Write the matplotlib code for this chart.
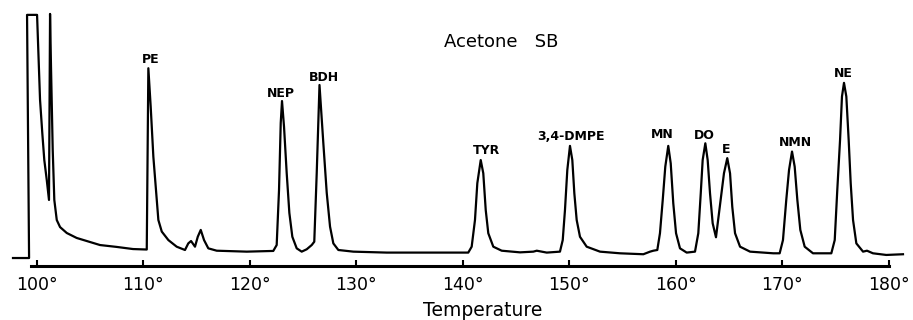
import matplotlib
matplotlib.use("Agg")
import matplotlib.pyplot as plt

# Chromatogram trace: temperature (deg C) and detector signal (arb. units)
temperature = [
    97.79, 99.30, 99.11, 100.05, 100.17, 100.33, 100.54, 100.73, 100.96, 101.17,
    101.27, 101.36, 101.52, 101.67, 101.90, 102.21, 102.84, 103.77, 104.71, 105.96,
    107.53, 109.06, 110.35,
    110.50, 110.72, 110.97, 111.22, 111.44, 111.76, 112.38, 113.16, 113.94,
    114.25, 114.51, 114.88, 115.14, 115.42, 115.73, 116.13, 116.92, 119.74, 122.23,
    122.55, 122.77, 122.93, 123.05, 123.24, 123.49, 123.74, 124.02, 124.43, 124.90,
    125.37, 125.84, 126.08,
    126.31, 126.57, 126.93, 127.25, 127.56, 127.87, 128.34, 129.75, 132.88, 140.54,
    140.86, 141.17, 141.39, 141.71, 141.95, 142.18, 142.42, 142.89, 143.68, 145.40,
    146.65, 146.97, 147.91, 149.15,
    149.41, 149.62, 149.84, 150.09, 150.31, 150.50, 150.72, 151.03, 151.66, 152.91,
    154.79, 156.98, 157.61, 157.92, 158.29,
    158.54, 158.80, 159.04, 159.32, 159.55, 159.79, 160.05, 160.42, 161.05, 161.83,
    162.14, 162.37, 162.55, 162.80, 163.02, 163.24, 163.49, 163.80,
    164.24, 164.55, 164.86, 165.12, 165.33, 165.59, 166.06, 167.00, 169.18,
    169.78, 170.09, 170.40, 170.66, 170.94, 171.19, 171.44, 171.72, 172.13, 172.91,
    174.63,
    174.95, 175.19, 175.45, 175.63, 175.82, 176.04, 176.26, 176.45, 176.67, 176.98,
    177.61, 177.98, 178.54, 179.79, 181.36,
]
signal = [
    -3.4, -3.4, 99.6, 99.6, 84.7, 63.6, 49.6, 38.1, 29.7, 21.2,
    100.0, 77.5, 42.4, 21.2, 12.7, 9.7, 7.2, 5.1, 3.8, 2.1,
    1.3, 0.4, 0.2,
    77.0, 60.7, 39.5, 25.4, 12.7, 7.8, 4.2, 1.4, 0.0,
    2.8, 3.8, 1.4, 5.6, 8.5, 4.2, 0.7, -0.3, -0.7, -0.4,
    2.1, 25.4, 53.8, 63.1, 52.2, 32.6, 15.7, 5.6, 0.7, -0.7,
    0.3, 2.1, 3.5,
    32.6, 69.9, 45.3, 24.2, 9.9, 2.8, 0.0, -0.7, -1.1, -1.1,
    1.4, 12.7, 28.3, 38.1, 32.5, 16.9, 7.1, 1.4, -0.3, -1.0,
    -0.7, -0.3, -1.1, -0.7,
    4.2, 16.9, 33.9, 44.1, 38.1, 24.0, 12.7, 5.6, 1.4, -0.7,
    -1.4, -1.8, -0.7, -0.3, 0.0,
    7.1, 21.2, 35.3, 44.1, 36.7, 19.8, 7.1, 0.7, -1.1, -0.7,
    7.1, 24.0, 38.1, 45.2, 38.1, 24.0, 11.3, 5.4,
    21.2, 32.5, 38.9, 32.5, 18.3, 7.1, 1.4, -0.7, -1.4,
    -1.4, 4.2, 21.2, 33.9, 41.7, 35.3, 21.2, 8.5, 1.4, -1.4,
    -1.4,
    4.2, 25.4, 46.6, 65.0, 70.8, 65.0, 46.6, 28.3, 12.7, 2.8,
    -0.7, -0.3, -1.4, -2.1, -1.8,
]

# Peak labels
peak_names = ["PE", "NEP", "BDH", "TYR", "3,4-DMPE", "MN", "DO", "E", "NMN", "NE"]
peak_label_temp = [110.75, 122.91, 127.0, 142.21, 150.14, 158.73, 162.72, 164.79, 171.27, 175.73]
peak_label_signal = [79.2, 64.8, 71.6, 40.7, 46.6, 47.5, 47.0, 41.1, 44.1, 73.3]

tick_values = [100, 110, 120, 130, 140, 150, 160, 170, 180]
tick_labels = ["100°", "110°", "120°", "130°", "140°", "150°", "160°", "170°", "180°"]

fig = plt.figure(figsize=(9.13, 3.20), dpi=100)
ax = fig.add_axes([0, 1 - 266 / 320, 1, 266 / 320])

ax.plot(temperature, signal, color="black", linewidth=1.6, solid_joinstyle="round")

for name, t, s in zip(peak_names, peak_label_temp, peak_label_signal):
    ax.text(t, s, name, ha="center", va="baseline", fontsize=9,
            fontweight="bold", family="DejaVu Sans")

ax.text(143.62, 88.1, "Acetone   SB", ha="center", va="center", fontsize=13)

ax.set_xlim(96.57, 182.30)
ax.set_ylim(-6.78, 105.9)

for side in ["left", "right", "top"]:
    ax.spines[side].set_visible(False)
ax.spines["bottom"].set_linewidth(2.2)
ax.spines["bottom"].set_bounds(99.5, 180)

ax.set_yticks([])
ax.set_xticks(tick_values)
ax.set_xticklabels(tick_labels, fontsize=12.5)
ax.tick_params(axis="x", direction="in", length=4, width=1.5, pad=7)

ax.set_xlabel("Temperature", fontsize=13.5)
ax.xaxis.label.set_va("baseline")
ax.xaxis.set_label_coords(0.529, -0.188)

fig.savefig("out.png", dpi=100)
